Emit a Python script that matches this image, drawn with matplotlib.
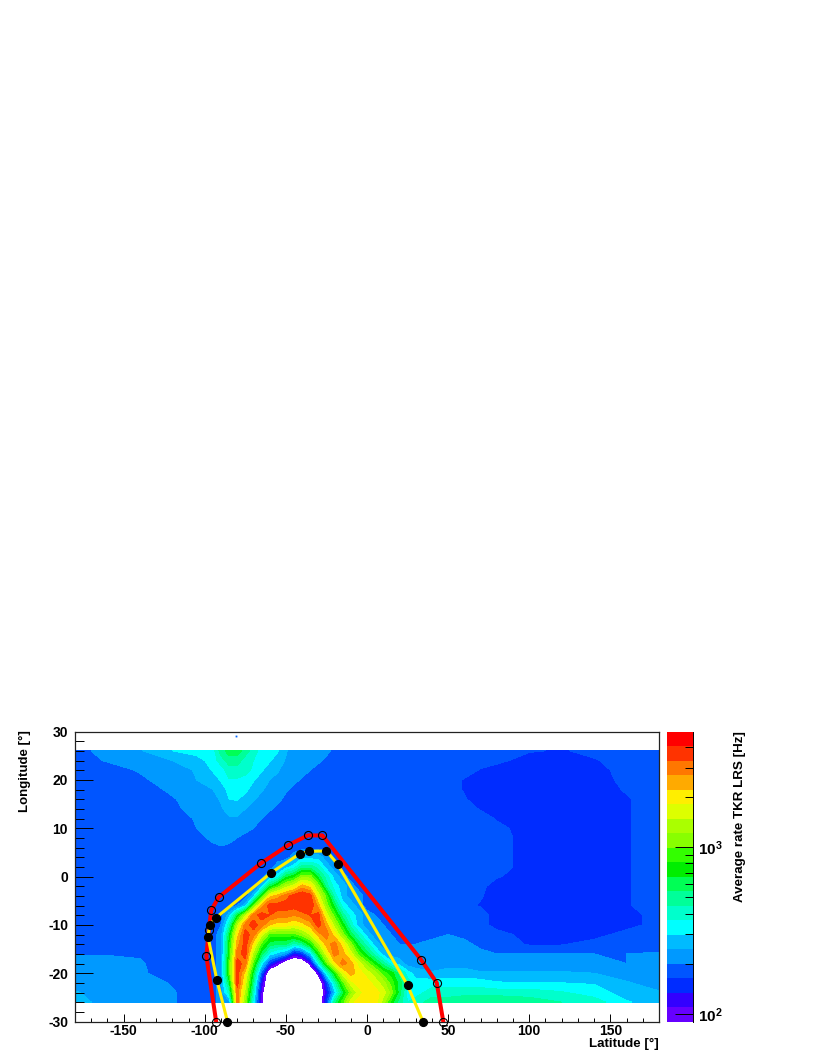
import numpy as np
import matplotlib
matplotlib.use("Agg")
import matplotlib.pyplot as plt
from matplotlib.ticker import FixedLocator, MultipleLocator, NullFormatter

plt.rcParams["font.family"] = ["Liberation Sans", "DejaVu Sans"]
plt.rcParams["font.weight"] = "bold"
plt.rcParams["axes.unicode_minus"] = False
plt.rcParams["mathtext.fontset"] = "custom"
plt.rcParams["mathtext.bf"] = "Liberation Sans:bold"
plt.rcParams["mathtext.rm"] = "Liberation Sans:bold"

lon_nodes = [-180, -160, -140, -120,
             -105, -95, -90, -85, -80, -75, -70, -65, -60, -55,
             -50, -45, -40, -35, -30, -25, -20, -15, -10, -5,
             0, 5, 10, 15, 20, 25, 30, 40, 50, 60,
             70, 80, 100, 120, 140, 160, 180]
lat_nodes = list(range(26, -28, -2))

# colour band read at each node, 0 = lowest band of the palette, -3 = no data
bands = [
    [3,4,4.4,5.5,  6,6,8,9,9,8,7,6,6,5.6,  4.6,4,4,4,4,3.6,3.4,3,3,3,  3,3,3,3,3,3,3,3,3,3,  3,3,2.6,2.4,2.8,3,3],
    [3,3.6,4,4.5,  5,6,7,8,8,7,6.5,6,5.6,5,  4.4,4,4,4,3.6,3.4,3,3,3,3,  3,3,3,3,3,3,3,3,3,3,  3,2.8,2,2,2.4,3,3],
    [3,3,3.6,4,  4.6,5.6,6,7,7,7,6.2,5.6,5,4.6,  4,4,3.8,3.5,3.3,3,3,3,3,3,  3,3,3,3,3,3,3,3,3,3,  2.4,2,2,2,2,3,3],
    [3,3,3.3,4,  4.5,5,5.6,6.4,6.4,6,5.6,5,4.5,4.2,  4,3.7,3.4,3,3,3,3,3,3,3,  3,3,3,3,3,3,3,3,3,2.4,  2,2,2,2,2,2.8,3],
    [3,3,3,3.7,  4,4.5,5,5.8,6,5.8,5,4.6,4.2,4,  3.6,3.3,3,3,3,3,3,3,3,3,  3,3,3,3,3,3,3,3,3,2.4,  2,2,2,2,2,2.6,3],
    [3,3,3,3.4,  4,4.2,4.6,5.5,5.6,5,4.6,4.2,4,3.7,  3.3,3,3,3,3,3,3,3,3,3,  3,3,3,3,3,3,3,3,3,2.6,  2,2,2,2,2,2.4,3],
    [3,3,3,3.3,  3.8,4,4.4,4.8,4.8,4.5,4,4,3.6,3.3,  3,3,3,3,3,3,3,3,3,3,  3,3,3,3,3,3,3,3,3,3,  2.4,2.2,2,2,2,2.4,3],
    [3,3,3,3,  3.6,4,4,4.4,4.4,4,4,3.5,3.2,3,  3,3,3,3,3,3,3,3,3,3,  3,3,3,3,3,3,3,3,3,3,  3,2.4,2,2,2,2.4,3],
    [3,3,3,3,  3.5,4,4,4,4,3.8,3.5,3,3,3,  3,3,3,3,3,3,3,3,3,3,  3,3,3,3,3,3,3,3,3,3,  3,2.8,2,2,2,2.4,3],
    [3,3,3,3,  3.2,3.7,4,3.8,3.5,3.2,3,3,3,3,  3,3,3,3,3,3,3,3,3,3,  3,3,3,3,3,3,3,3,3,3,  3,3,2,2,2,2.4,3],
    [3,3,3,3,  3,3.3,3.4,3.3,3,3,3,3,3,3,  3,3,3,3,3,3,3,3,3,3,  3,3,3,3,3,3,3,3,3,3,  3,3,2,2,2,2.4,3],
    [3,3,3,3,  3,3,3,3,3,3,3,3,3,3,  3,4,5,5,5,4,3,3,3,3,  3,3,3,3,3,3,3,3,3,3,  3,3,2,2,2,2.4,3],
    [3,3,3,3,  3,3,3,3,3,3,3,3,3,4,  5,6,8,8,7,5,4,3,3,3,  3,3,3,3,3,3,3,3,3,3,  3,3,2,2,2,2.4,3],
    [3,3,3,3,  3,3,3,3,3,3,3,3,4.5,6,  9,10,12,12,9,7,5,4,3,3,  3,3,3,3,3,3,3,3,3,3,  3,2.6,2,2,2,2.4,3],
    [3,2.8,2.8,3,  3,3,3,3,3,3,3,5,9,11,  13,14,16,15,12,8,6,5,4,3,  3,3,3,3,3,3,3,3,3,3,  2.8,2,2,2,2,2.4,3],
    [2.8,2.6,2.6,3,  3,3,3,3,3,3,5,10,15,16,  17,18,18.5,18,14,11,7,5,4,4,  3,3,3,3,3,3,3,3,3,3,  2.6,2,2,2,2,2.4,3],
    [2.8,2.6,2.6,3,  3,3,3,3,3.5,5,11,16,18,18,  18,18,18.5,18.5,16,12,9,6,5,4,  3,3,3,3,3,3,3,3,3,2.8,  2.4,2,2,2,2,2.4,3],
    [2.8,2.6,2.6,3,  3,3,3,5,9,13,17,18,17.5,17,  17,16.5,17,17.5,18,14,11,8,6,5,  4,3.5,3,3,3,3,3,3,3,3,  3,2,2,2,2,2,3],
    [2.8,2.6,2.6,3,  3,3,3.5,7,13,17,18,17,15.5,15,  15,14.5,15,16,18,16,13,10,7,5,  4,4,3.5,3,3,3,3,3,3.4,3.4,  3,2,2,2,2,2,3],
    [3,3,3,3,  3,3,4,9,15,18,17,14,11,11,  11,11,12,13.5,16,17,15,12,9,7,  5,4,4,3.5,3.5,3.4,3.4,3.4,3.5,3.4,  3,3,2,2,2,3,3],
    [3,3,3,3,  3,3,4,10,16,18,15,11,9,8.5,  8.5,7,8,10,13,16,17,15,12,9,  7,5,4,4,3.5,3.5,3.5,3.6,4,3.6,  3.4,3,2.4,2.4,3,3,3],
    [3.4,3.4,3.4,3,  3,3,4,10,17,18,13,9,6,5,  4,1,2,5,10,14,17,16,14,11,  9,7,5,4,4,4,4,4,4,4,  3.6,3.5,3.5,3.5,3.5,3.5,3.6],
    [4,4,3.6,3,  3,3,4,11,18,17,11,6,2,0,  -3,-3,-3,0,6,11,15,17,16,14,  12,10,8,6,5,4,4,4,4,4,  4,4,4,4,3.6,3.5,3.6],
    [4,4,3.6,3.2,  3,3,4,11,18,15,9,3,-3,-3,  -3,-3,-3,-3,0,6,10,14,16,15,  14,13,11,10,8,6,5,4.6,5,5,  4.6,4.6,4.6,4.6,4.5,4,4],
    [4,4,4,3.4,  3,3,4,9,18,14,8,1,-3,-3,  -3,-3,-3,-3,-3,2,7,11,14,15,  15,14,13,11,9,7,6,6,6,6,  6,5.6,5.5,5.5,5.4,4.6,4],
    [4.6,4,4,3.6,  3,3,4,7,17,13,7,0,-3,-3,  -3,-3,-3,-3,-3,1,5,9,12,14,  15,15,14,12,9,6,6,7,7,7,  7,7,7,6.6,6,5,4.6],
    [5,4,4,3.6,  3,3,4,4,17,12,6,0,-3,-3,  -3,-3,-3,-3,-3,2,8,11,14,15,  15,15,13,10,8,6.5,7,8,8,8.5,  8.5,8.5,8,7.5,7,5.6,5],
]

band_colors = ["#6600ff", "#3300ff", "#002cff", "#0055ff", "#0099ff",
               "#00bbff", "#00ffff", "#00ffcc", "#00ff99", "#00ff55",
               "#00ee00", "#33ff00", "#88ff00", "#aaff00", "#ddff00",
               "#ffee00", "#ffaa00", "#ff7700", "#ff3300", "#ff0000"]

# colour scale limits in Hz
rate_min = 90.0
rate_max = 4950.0

open_lon = [-93, -99, -97.5, -96, -91.5, -65.5, -48.5, -36.5, -27.5, 33.5, 43, 47]
open_lat = [-30, -16.5, -11, -7, -4.3, 2.7, 6.5, 8.5, 8.5, -17.3, -22, -30]
full_lon = [-86, -92.5, -98, -97, -93, -59, -41.5, -35.5, -25, -18, 25, 34.5]
full_lat = [-30, -21.5, -12.5, -10, -8.5, 0.8, 4.7, 5.2, 5.3, 2.5, -22.5, -30]

fig = plt.figure(figsize=(8.17, 10.58), dpi=100)
W, H = 817.0, 1058.0
ax = fig.add_axes([75 / W, 1 - 1021.5 / H, 584 / W, 290 / H])
cax = fig.add_axes([667 / W, 1 - 1021.5 / H, 25.5 / W, 290 / H])

band_edges = np.arange(len(band_colors) + 1) - 0.5
ax.contourf(lon_nodes, lat_nodes, np.array(bands, dtype=float),
            levels=band_edges, colors=band_colors)
ax.plot([-80.5], [29], ls="none", marker="s", ms=1.3, color="#0066ff", mew=0)

ax.plot(open_lon, open_lat, color="#ff0000", lw=2.9, solid_joinstyle="round", zorder=3)
ax.plot(full_lon, full_lat, color="#ffee00", lw=2.2, solid_joinstyle="round", zorder=3)
ax.plot(open_lon, open_lat, ls="none", marker="o", ms=5.8, mfc="none", mec="black",
        mew=0.8, clip_on=False, zorder=4)
ax.plot(full_lon, full_lat, ls="none", marker="o", ms=5.6, color="black",
        clip_on=False, zorder=5)

ax.set_xlim(-180, 180)
ax.set_ylim(-30, 30)
ax.xaxis.set_major_locator(MultipleLocator(50))
ax.xaxis.set_minor_locator(MultipleLocator(10))
ax.yaxis.set_major_locator(MultipleLocator(10))
ax.yaxis.set_minor_locator(MultipleLocator(2))
ax.tick_params(axis="x", which="major", direction="in", length=6, width=0.7, labelsize=10, pad=2)
ax.tick_params(axis="x", which="minor", direction="in", length=3, width=0.7)
ax.tick_params(axis="y", which="major", direction="in", length=13, width=0.7, labelsize=10, pad=5)
ax.tick_params(axis="y", which="minor", direction="in", length=6.5, width=0.7)
for s in ax.spines.values():
    s.set_linewidth(0.9)
    s.set_color("#222222")

# colour bar
rate_edges = 10 ** np.linspace(np.log10(rate_min), np.log10(rate_max), len(band_colors) + 1)
for i, c in enumerate(band_colors):
    cax.axhspan(rate_edges[i], rate_edges[i + 1], color=c, lw=0)
cax.set_yscale("log")
cax.set_ylim(rate_min, rate_max)
cax.set_xticks([])
cax.yaxis.tick_right()
cax.yaxis.set_major_locator(FixedLocator([100, 1000]))
cax.yaxis.set_minor_locator(FixedLocator([200, 300, 400, 500, 600, 700, 800, 900, 2000, 3000, 4000]))
cax.yaxis.set_minor_formatter(NullFormatter())
cax.set_yticklabels([r"$\mathbf{10^{2}}$", r"$\mathbf{10^{3}}$"])
cax.tick_params(axis="y", which="major", direction="in", length=13, width=0.7, labelsize=11, pad=4,
                right=True, left=False)
cax.tick_params(axis="y", which="minor", direction="in", length=6, width=0.7, right=True, left=False)
for name, s in cax.spines.items():
    s.set_visible(name == "right")
    s.set_linewidth(0.7)

fig.text(659 / W, 1 - 1044 / H, "Latitude [°]", ha="right", va="center", fontsize=9.6)
fig.text(25 / W, 1 - 730 / H, "Longitude [°]", ha="center", va="top", rotation=90, fontsize=9.5)
fig.text(740 / W, 1 - 731 / H, "Average rate TKR LRS [Hz]", ha="center", va="top",
         rotation=90, fontsize=9.6)

fig.savefig("out.png", dpi=100)
